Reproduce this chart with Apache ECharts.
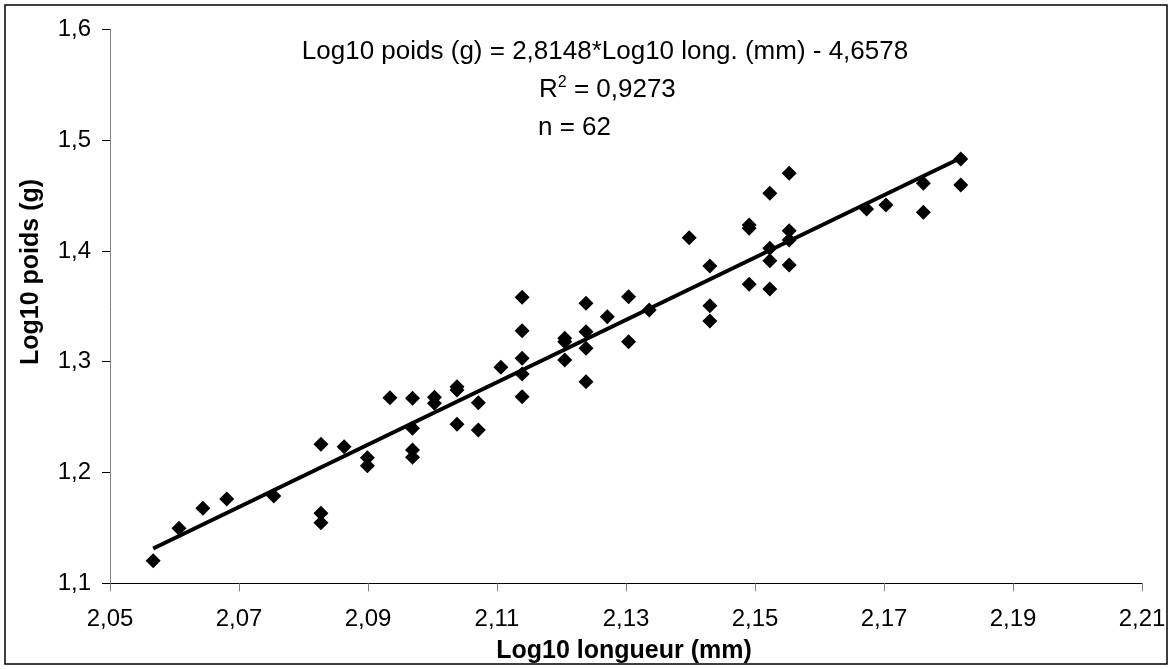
<!DOCTYPE html>
<html>
<head>
<meta charset="utf-8">
<script src="https://cdn.jsdelivr.net/npm/echarts@6/dist/echarts.min.js"></script>
<style>
  html, body { margin: 0; padding: 0; background: #fff; }
  #chart { width: 1173px; height: 669px; }
</style>
</head>
<body>
<div id="chart"></div>
<script>
// ---- data ----
const logLength = [
  2.0567, 2.0607, 2.0644, 2.0681, 2.0754,
  2.0827, 2.0827, 2.0827, 2.0863, 2.0899, 2.0899, 2.0934,
  2.0969, 2.0969, 2.0969, 2.0969,
  2.1003, 2.1003,
  2.1038, 2.1038, 2.1038,
  2.1071, 2.1071,
  2.1106,
  2.1139, 2.1139, 2.1139, 2.1139, 2.1139,
  2.1205, 2.1205, 2.1205,
  2.1238, 2.1238, 2.1238, 2.1238,
  2.1271,
  2.1304, 2.1304,
  2.1336,
  2.1398,
  2.1430, 2.1430, 2.1430,
  2.1491, 2.1491, 2.1491,
  2.1523, 2.1523, 2.1523, 2.1523,
  2.1553, 2.1553, 2.1553, 2.1553,
  2.1673, 2.1703,
  2.1761, 2.1761,
  2.1819, 2.1819
];
const logWeight = [
  1.1204, 1.1496, 1.1677, 1.1761, 1.1788,
  1.2255, 1.1632, 1.1547, 1.2233, 1.2134, 1.2061, 1.2675,
  1.2670, 1.2399, 1.2203, 1.2137,
  1.2679, 1.2625,
  1.2774, 1.2745, 1.2435,
  1.2630, 1.2384,
  1.2949,
  1.3581, 1.3280, 1.3031, 1.2889, 1.2684,
  1.3211, 1.3181, 1.3015,
  1.3527, 1.3271, 1.3121, 1.2819,
  1.3406,
  1.3587, 1.3181,
  1.3467,
  1.4119,
  1.3864, 1.3505, 1.3367,
  1.4234, 1.4204, 1.3699,
  1.4520, 1.4023, 1.3912, 1.3656,
  1.4700, 1.4182, 1.4098, 1.3873,
  1.4378, 1.4414,
  1.4610, 1.4348,
  1.4829, 1.4595
];
// regression shown on the chart
const slope = 2.8148;
const intercept = -4.6578;
const xTicks = ['2,05','2,07','2,09','2,11','2,13','2,15','2,17','2,19','2,21'];
const yTicks = ['1,1','1,2','1,3','1,4','1,5','1,6'];
const eqText = 'Log10 poids (g) = 2,8148*Log10 long. (mm) - 4,6578';
const r2Text = '0,9273';
const nText = 'n = 62';
const xTitle = 'Log10 longueur (mm)';
const yTitle = 'Log10 poids (g)';

// ---- build (axes in shifted integer units so ticks start at min) ----
const X0 = 2.05, XS = 100;   // x unit = 0.01, 0 at 2.05
const Y0 = 1.1,  YS = 100;   // y unit = 0.01, 0 at 1.1
const tx = v => (v - X0) * XS;
const ty = v => (v - Y0) * YS;
const pts = logLength.map((x, i) => [tx(x), ty(logWeight[i])]);
const xMin = Math.min(...logLength), xMax = Math.max(...logLength);
const linePts = [xMin, xMax].map(x => [tx(x), ty(slope * x + intercept)]);

const FONT = '"Liberation Sans", Arial, Helvetica, sans-serif';
const chart = echarts.init(document.getElementById('chart'), null, { renderer: 'canvas' });
chart.setOption({
  animation: false,
  backgroundColor: '#ffffff',
  grid: { left: 110, right: 31, top: 29.3, bottom: 85.7, containLabel: false },
  xAxis: {
    type: 'value', min: 0, max: 16, interval: 2,
    axisLine: { show: true, onZero: false, lineStyle: { color: '#000', width: 1 } },
    axisTick: { show: true, length: 8, lineStyle: { color: '#808080', width: 1 } },
    splitLine: { show: false },
    axisLabel: {
      margin: 24, color: '#000', fontFamily: FONT, fontSize: 24,
      formatter: v => xTicks[Math.round(v / 2)]
    }
  },
  yAxis: {
    type: 'value', min: 0, max: 50, interval: 10,
    axisLine: { show: true, onZero: false, lineStyle: { color: '#808080', width: 1 } },
    axisTick: { show: true, length: 8, lineStyle: { color: '#000', width: 1 } },
    splitLine: { show: false },
    axisLabel: {
      margin: 19, color: '#000', fontFamily: FONT, fontSize: 24,
      formatter: v => yTicks[Math.round(v / 10)]
    }
  },
  series: [
    {
      type: 'line', data: linePts, showSymbol: false, symbol: 'none',
      lineStyle: { color: '#000', width: 4 }, z: 2, silent: true
    },
    {
      type: 'scatter', data: pts, symbol: 'diamond', symbolSize: [15, 15],
      itemStyle: { color: '#000', opacity: 1 }, z: 3
    }
  ],
  graphic: [
    { type: 'rect', shape: { x: 5, y: 5, width: 1162, height: 659 },
      style: { fill: 'none', stroke: '#000', lineWidth: 1.5 }, z: 10 },
    { type: 'text', x: 605, y: 52,
      style: { text: eqText, fontFamily: FONT, fontSize: 26, fill: '#000', align: 'center', verticalAlign: 'middle' } },
    { type: 'text', x: 539, y: 90,
      style: { text: '{r|R}{s|2}{r| = ' + r2Text + '}', fontFamily: FONT, fill: '#000', align: 'left', verticalAlign: 'middle',
        rich: { r: { fontSize: 26, fontFamily: FONT, fill: '#000' }, s: { fontSize: 16, fontFamily: FONT, fill: '#000', verticalAlign: 'top', padding: [0,0,14,0] } } } },
    { type: 'text', x: 538, y: 128,
      style: { text: nText, fontFamily: FONT, fontSize: 26, fill: '#000', align: 'left', verticalAlign: 'middle' } },
    { type: 'text', x: 624, y: 651,
      style: { text: xTitle, fontFamily: FONT, fontSize: 25, fontWeight: 'bold', fill: '#000', align: 'center', verticalAlign: 'middle' } },
    { type: 'text', x: 31, y: 272, rotation: Math.PI / 2,
      style: { text: yTitle, fontFamily: FONT, fontSize: 25, fontWeight: 'bold', fill: '#000', align: 'center', verticalAlign: 'middle' } }
  ]
});
</script>
</body>
</html>
